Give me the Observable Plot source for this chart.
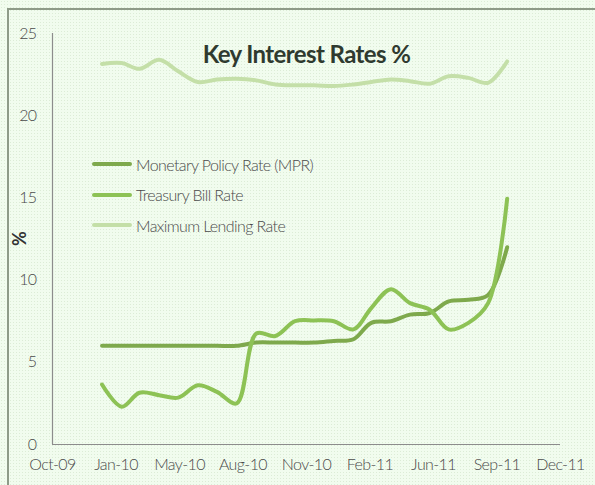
<!DOCTYPE html>
<html>
<head>
<meta charset="utf-8">
<script src="https://cdn.jsdelivr.net/npm/d3@7"></script>
<script src="https://cdn.jsdelivr.net/npm/@observablehq/plot@0.6"></script>
<style>
  html, body { margin: 0; padding: 0; }
  body {
    width: 595px; height: 485px; overflow: hidden; position: relative;
    background-color: #f1fcee;
    background-image: radial-gradient(#dcecd6 0.7px, transparent 0.9px);
    background-size: 3px 3px;
    font-family: Lato, "Liberation Sans", sans-serif;
  }
  #frame {
    position: absolute; left: 7px; top: 8px; width: 700px; height: 600px;
    border-left: 2px solid #8e9b88; border-top: 2px solid #8e9b88;
  }
  #chart { position: absolute; left: 0; top: 0; }
  #legend { position: absolute; left: 92px; top: 154px; }
  .item { position: absolute; left: 0; height: 20px; white-space: nowrap; display: flex; align-items: center; }
  .item svg { display: block; }
  .item span { font-size: 16px; font-weight: 300; letter-spacing: -0.6px; color: #4a4a4a; margin-left: 4px; }
  svg text { letter-spacing: -0.6px; }
</style>
</head>
<body>
<div id="frame"></div>
<div id="chart"></div>
<div id="legend"></div>
<script>
// Month-end observation dates
const dates = [
  "2009-12-31","2010-01-31","2010-02-28","2010-03-31","2010-04-30","2010-05-31",
  "2010-06-30","2010-07-31","2010-08-31","2010-09-30","2010-10-31","2010-11-30",
  "2010-12-31","2011-01-31","2011-02-28","2011-03-31","2011-04-30","2011-05-31",
  "2011-06-30","2011-07-31","2011-08-31","2011-09-30"
];
const seriesNames = ["Monetary Policy Rate (MPR)", "Treasury Bill Rate", "Maximum Lending Rate"];
const mpr = [6.0, 6.0, 6.0, 6.0, 6.0, 6.0, 6.0, 6.0, 6.2, 6.2, 6.2, 6.2,
             6.3, 6.4, 7.4, 7.5, 7.9, 8.0, 8.7, 8.8, 9.1, 12.0];
const tbill = [3.65, 2.3, 3.15, 3.0, 2.85, 3.6, 3.2, 2.5, 6.75, 6.6, 7.5, 7.55,
               7.5, 7.0, 8.3, 9.45, 8.6, 8.2, 7.0, 7.4, 8.6, 14.95];
const maxLending = [23.15, 23.2, 22.85, 23.4, 22.7, 22.05, 22.2, 22.25, 22.15, 21.9, 21.85, 21.85,
                    21.8, 21.9, 22.05, 22.2, 22.1, 21.95, 22.4, 22.3, 22.0, 23.3];
const tickDates = ["2009-10-14","2010-01-22","2010-05-02","2010-08-10","2010-11-18",
                   "2011-02-26","2011-06-06","2011-09-14","2011-12-23"];
const yTicks = [0, 5, 10, 15, 20, 25];
const colors = ["#7ea94c", "#8dc255", "#c4dfa8"];
const titleText = "Key Interest Rates %";
const yLabel = "%";

const parse = s => new Date(s + "T00:00:00Z");
const seriesValues = [mpr, tbill, maxLending];
const rows = [];
seriesNames.forEach((name, i) => {
  seriesValues[i].forEach((v, j) => rows.push({date: parse(dates[j]), value: v, series: name}));
});
const ticks = tickDates.map(parse);
const fmt = d3.utcFormat("%b-%y");
const font = 'Lato, "Liberation Sans", sans-serif';

const chart = Plot.plot({
  width: 595, height: 485,
  marginLeft: 52, marginRight: 35, marginTop: 33, marginBottom: 41,
  style: {background: "transparent", fontFamily: font, fontSize: "16px", fontWeight: 300, color: "#4a4a4a", overflow: "visible"},
  x: {type: "utc", domain: [ticks[0], ticks[ticks.length - 1]]},
  y: {domain: [0, 25]},
  color: {domain: seriesNames, range: colors},
  marks: [
    Plot.axisY({ticks: yTicks, tickSize: 0, tickPadding: 16, label: null, fontSize: 16}),
    Plot.axisX({ticks: ticks, tickFormat: fmt, tickSize: 0, tickPadding: 14, label: null, fontSize: 16}),
    Plot.ruleX([ticks[0]], {y1: 0, y2: 25, stroke: "#8c8c8c", strokeWidth: 1.2}),
    Plot.ruleY([0], {stroke: "#8c8c8c", strokeWidth: 1.2}),
    Plot.line(rows, {x: "date", y: "value", z: "series", stroke: "series",
                     strokeWidth: 4, curve: "catmull-rom", strokeLinecap: "round"}),
    Plot.text([titleText], {frameAnchor: "top", dy: 12, fontSize: 24, fontWeight: "bold", fill: "#2f3a2f", fontFamily: font}),
    Plot.text([yLabel], {frameAnchor: "left", dx: -32, dy: 7, rotate: -90, fontSize: 18, fontWeight: "bold", fill: "#333"})
  ]
});
document.getElementById("chart").appendChild(chart);

const legend = document.getElementById("legend");
seriesNames.forEach((name, i) => {
  const item = document.createElement("div");
  item.className = "item";
  item.style.top = (i * 30.5) + "px";
  item.innerHTML = `<svg width="40" height="8"><line x1="2" y1="4" x2="38" y2="4" stroke="${colors[i]}" stroke-width="4" stroke-linecap="round"/></svg><span>${name}</span>`;
  legend.appendChild(item);
});
</script>
</body>
</html>
